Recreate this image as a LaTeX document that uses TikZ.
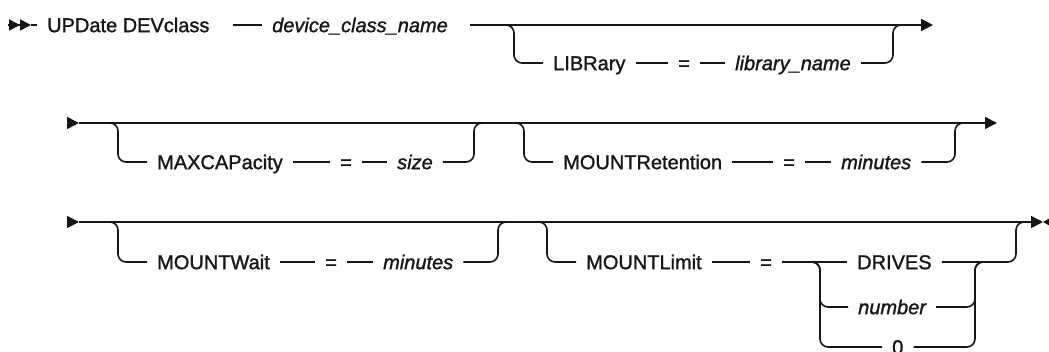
\documentclass[tikz,border=0pt]{standalone}
\usepackage{fontspec}
\setmainfont{Liberation Sans}[
  BoldFont=Liberation Sans, BoldFeatures={FakeBold=1.3},
  BoldItalicFont=Liberation Sans Italic, BoldItalicFeatures={FakeBold=1.3}]
\usetikzlibrary{positioning,arrows.meta}
\definecolor{railink}{RGB}{22,22,22}

\begin{document}
\begin{tikzpicture}[
  x=1pt, y=-1pt,
  rail/.style={draw=railink, line width=1.6pt, rounded corners=8pt},
  railend/.style={-{Triangle[length=12pt,width=12pt]}},
  kw/.style={font=\fontsize{20}{24}\selectfont\bfseries, text=railink, anchor=west, inner xsep=10pt, inner ysep=0pt, text height=14.3pt, text depth=0pt},
  var/.style={kw, font=\fontsize{20}{24}\selectfont\bfseries\itshape},
]
\def\ra{25}    % row 1 main line
\def\rb{63}    % row 1 option
\def\rc{123}   % row 2 main line
\def\rd{162}   % row 2 options
\def\re{222}   % row 3 main line
\def\rf{262}   % row 3 options
\def\rg{307}   % choice: number
\def\rh{347}   % choice: 0

\useasboundingbox (0,0) rectangle (1049,352);

% ---- row 1 ----
\coordinate (beg) at (8,\ra);
\coordinate (beg2) at (31,\ra);
\coordinate (j1) at (497,\ra);
\coordinate (k1) at (902,\ra);
\coordinate (out1) at (933,\ra);
\node[kw] (cmd) at (37,\ra) {UPDate DEVclass};
\node[var] (dcn) at (262,\ra) {device\_class\_name};
\node[kw] (lib) at (543,\rb) {LIBRary};
\node[kw] (eqa) at (668,\rb) {=};
\node[var] (libn) at (725,\rb) {library\_name};

\draw[rail, -{Triangle[length=11pt,width=11pt]Triangle[length=11pt,width=11pt]}] (beg) -- (beg2);
\draw[rail] (beg2) -- (cmd.west);
\draw[rail, shorten <=13pt] (cmd.east) -- (dcn.west);
\draw[rail, railend, shorten <=12pt] (dcn.east) -- (out1);
\draw[rail] (j1) -| ([xshift=-29pt]lib.west) -- (lib.west);
\draw[rail] (lib.east) -- (eqa.west);
\draw[rail] (eqa.east) -- (libn.west);
\draw[rail] (libn.east) -| ([xshift=-9pt]k1) -- (k1);

% ---- row 2 ----
\coordinate (in2) at (67,\rc);
\coordinate (in2t) at (79,\rc);
\coordinate (j2) at (100,\rc);
\coordinate (k2) at (483,\rc);
\coordinate (j3) at (505,\rc);
\coordinate (k3) at (964,\rc);
\coordinate (out2) at (997,\rc);
\node[kw] (mcap) at (147,\rd) {MAXCAPacity};
\node[kw] (eqb) at (330,\rd) {=};
\node[var] (size) at (387,\rd) {size};
\node[kw] (mret) at (553,\rd) {MOUNTRetention};
\node[kw] (eqc) at (773,\rd) {=};
\node[var] (minr) at (831,\rd) {minutes};

\draw[rail, railend] (in2) -- (in2t);
\draw[rail, railend] (in2t) -- (out2);
\draw[rail] (j2) -| ([xshift=-29pt]mcap.west) -- (mcap.west);
\draw[rail] (mcap.east) -- (eqb.west);
\draw[rail] (eqb.east) -- (size.west);
\draw[rail] (size.east) -| ([xshift=-9pt]k2) -- (k2);
\draw[rail] (j3) -| ([xshift=-29pt]mret.west) -- (mret.west);
\draw[rail] (mret.east) -- (eqc.west);
\draw[rail] (eqc.east) -- (minr.west);
\draw[rail] (minr.east) -| ([xshift=-9pt]k3) -- (k3);

% ---- row 3 ----
\coordinate (in3) at (67,\re);
\coordinate (in3t) at (79,\re);
\coordinate (j4) at (100,\re);
\coordinate (k4) at (507,\re);
\coordinate (j5) at (528,\re);
\coordinate (k5) at (1025,\re);
\coordinate (e3) at (1043,\re);
\coordinate (e3b) at (1054,\re);
\coordinate (c1) at (804,\rf);
\coordinate (cv) at (820,\rf);
\coordinate (cw) at (975,\rf);
\coordinate (cw2) at (992,\rf);
\node[kw] (mwait) at (147,\rf) {MOUNTWait};
\node[kw] (eqd) at (315,\rf) {=};
\node[var] (minw) at (373,\rf) {minutes};
\node[kw] (mlim) at (576,\rf) {MOUNTLimit};
\node[kw] (eqe) at (750,\rf) {=};
\node[kw] (drv) at (847,\rf) {DRIVES};
\node[var] (num) at (848,\rg) {number};
\node[kw] (zero) at (882,\rh) {0};

\draw[rail, railend] (in3) -- (in3t);
\draw[rail, railend] (in3t) -- (e3);
\draw[rail, {Triangle[length=11pt,width=12pt]}-] (e3) -- (e3b);
\draw[rail] (j4) -| ([xshift=-29pt]mwait.west) -- (mwait.west);
\draw[rail] (mwait.east) -- (eqd.west);
\draw[rail] (eqd.east) -- (minw.west);
\draw[rail] (minw.east) -| ([xshift=-9pt]k4) -- (k4);
\draw[rail] (j5) -| ([xshift=-29pt]mlim.west) -- (mlim.west);
\draw[rail] (mlim.east) -- (eqe.west);
\draw[rail] (eqe.east) -- (drv.west);
\draw[rail] (c1) -| (cv |- num.west) -- (num.west);
\draw[rail] (c1) -| (cv |- zero.west) -- (zero.west);
\draw[rail] (num.east) -| (cw) -- (cw2);
\draw[rail] (zero.east) -| (cw) -- (cw2);
\draw[rail] (drv.east) -| ([xshift=-9pt]k5) -- (k5);

\end{tikzpicture}
\end{document}
